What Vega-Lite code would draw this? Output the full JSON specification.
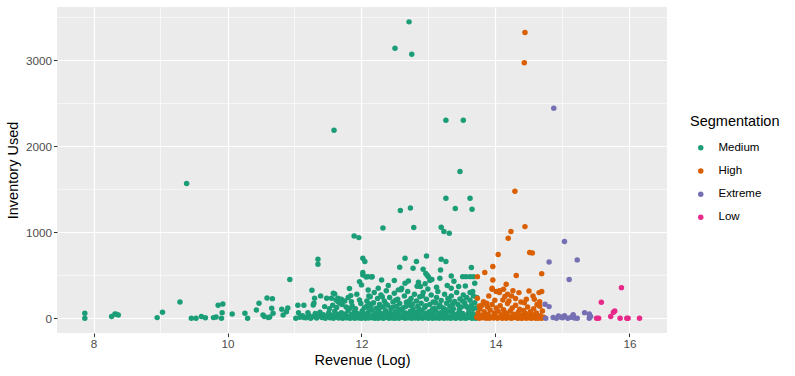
{
  "$schema": "https://vega.github.io/schema/vega-lite/v6.json",
  "width": 610,
  "height": 326,
  "autosize": {"type": "none"},
  "padding": {"left": 57, "top": 7, "right": 128, "bottom": 43},
  "background": "white",
  "config": {
    "font": "Liberation Sans",
    "view": {"fill": "#EBEBEB", "stroke": null},
    "axis": {
      "domain": false,
      "grid": true,
      "gridColor": "#FFFFFF",
      "gridWidth": 1.2,
      "tickColor": "#333333",
      "tickSize": 3.6,
      "tickWidth": 1,
      "labelColor": "#4D4D4D",
      "labelFontSize": 11.7,
      "labelPadding": 2,
      "titleFontSize": 14.5,
      "titleFontWeight": "normal",
      "titleColor": "#000000"
    },
    "legend": {
      "titleFontSize": 14.5,
      "titleFontWeight": "normal",
      "titleColor": "#000000",
      "labelFontSize": 11.5,
      "labelColor": "#000000",
      "padding": 0
    }
  },
  "layer": [
    {
      "data": {"values": [{"rev": 9}, {"rev": 11}, {"rev": 13}, {"rev": 15}]},
      "mark": {"type": "rule", "color": "#FFFFFF", "strokeWidth": 0.6},
      "encoding": {
        "x": {"field": "rev", "type": "quantitative", "title": "Revenue (Log)", "scale": {"domain": [7.455, 16.56], "nice": false, "zero": false}}
      }
    },
    {
      "data": {"values": [{"inv": 500}, {"inv": 1500}, {"inv": 2500}, {"inv": 3500}]},
      "mark": {"type": "rule", "color": "#FFFFFF", "strokeWidth": 0.6},
      "encoding": {
        "y": {"field": "inv", "type": "quantitative", "title": "Inventory Used", "scale": {"domain": [-172, 3622], "nice": false, "zero": false}}
      }
    },
    {
      "data": {"values": [
        {"rev":7.87,"inv":58,"seg":"Medium"},{"rev":7.87,"inv":0,"seg":"Medium"},{"rev":8.27,"inv":19,"seg":"Medium"},{"rev":8.32,"inv":50,"seg":"Medium"},{"rev":8.37,"inv":38,"seg":"Medium"},{"rev":8.34,"inv":45,"seg":"Medium"},{"rev":8.95,"inv":7,"seg":"Medium"},{"rev":9.03,"inv":70,"seg":"Medium"},{"rev":9.29,"inv":190,"seg":"Medium"},{"rev":9.39,"inv":1567,"seg":"Medium"},
        {"rev":9.46,"inv":0,"seg":"Medium"},{"rev":9.53,"inv":0,"seg":"Medium"},{"rev":9.61,"inv":19,"seg":"Medium"},{"rev":9.67,"inv":5,"seg":"Medium"},{"rev":9.79,"inv":7,"seg":"Medium"},{"rev":9.83,"inv":15,"seg":"Medium"},{"rev":9.86,"inv":150,"seg":"Medium"},{"rev":9.93,"inv":166,"seg":"Medium"},{"rev":9.92,"inv":65,"seg":"Medium"},{"rev":9.91,"inv":0,"seg":"Medium"},
        {"rev":10.07,"inv":50,"seg":"Medium"},{"rev":10.26,"inv":58,"seg":"Medium"},{"rev":10.30,"inv":0,"seg":"Medium"},{"rev":10.43,"inv":97,"seg":"Medium"},{"rev":10.47,"inv":175,"seg":"Medium"},{"rev":10.59,"inv":236,"seg":"Medium"},{"rev":10.67,"inv":228,"seg":"Medium"},{"rev":10.53,"inv":38,"seg":"Medium"},{"rev":10.61,"inv":7,"seg":"Medium"},{"rev":10.66,"inv":116,"seg":"Medium"},
        {"rev":10.68,"inv":58,"seg":"Medium"},{"rev":10.55,"inv":20,"seg":"Medium"},{"rev":10.63,"inv":15,"seg":"Medium"},{"rev":10.81,"inv":105,"seg":"Medium"},{"rev":10.83,"inv":38,"seg":"Medium"},{"rev":10.90,"inv":120,"seg":"Medium"},{"rev":10.88,"inv":75,"seg":"Medium"},{"rev":10.93,"inv":450,"seg":"Medium"},{"rev":11.05,"inv":150,"seg":"Medium"},{"rev":11.06,"inv":65,"seg":"Medium"},
        {"rev":11.14,"inv":150,"seg":"Medium"},{"rev":11.14,"inv":7,"seg":"Medium"},{"rev":11.20,"inv":65,"seg":"Medium"},{"rev":11.26,"inv":326,"seg":"Medium"},{"rev":11.30,"inv":233,"seg":"Medium"},{"rev":11.29,"inv":175,"seg":"Medium"},{"rev":11.35,"inv":687,"seg":"Medium"},{"rev":11.35,"inv":628,"seg":"Medium"},{"rev":11.39,"inv":260,"seg":"Medium"},{"rev":11.45,"inv":135,"seg":"Medium"},
        {"rev":11.48,"inv":233,"seg":"Medium"},{"rev":11.55,"inv":233,"seg":"Medium"},{"rev":11.60,"inv":283,"seg":"Medium"},{"rev":11.62,"inv":213,"seg":"Medium"},{"rev":11.65,"inv":233,"seg":"Medium"},{"rev":11.68,"inv":175,"seg":"Medium"},{"rev":11.75,"inv":201,"seg":"Medium"},{"rev":11.82,"inv":345,"seg":"Medium"},{"rev":11.84,"inv":263,"seg":"Medium"},{"rev":11.83,"inv":116,"seg":"Medium"},
        {"rev":11.89,"inv":958,"seg":"Medium"},{"rev":11.96,"inv":938,"seg":"Medium"},{"rev":11.97,"inv":213,"seg":"Medium"},{"rev":12.02,"inv":698,"seg":"Medium"},{"rev":12.05,"inv":659,"seg":"Medium"},{"rev":12.02,"inv":531,"seg":"Medium"},{"rev":12.07,"inv":481,"seg":"Medium"},{"rev":12.15,"inv":481,"seg":"Medium"},{"rev":11.97,"inv":426,"seg":"Medium"},{"rev":12.00,"inv":388,"seg":"Medium"},
        {"rev":12.12,"inv":166,"seg":"Medium"},{"rev":12.10,"inv":329,"seg":"Medium"},{"rev":12.07,"inv":135,"seg":"Medium"},{"rev":11.58,"inv":291,"seg":"Medium"},{"rev":11.65,"inv":193,"seg":"Medium"},{"rev":11.70,"inv":221,"seg":"Medium"},{"rev":11.85,"inv":193,"seg":"Medium"},{"rev":12.02,"inv":504,"seg":"Medium"},{"rev":12.10,"inv":484,"seg":"Medium"},{"rev":12.13,"inv":251,"seg":"Medium"},
        {"rev":12.10,"inv":155,"seg":"Medium"},{"rev":12.25,"inv":349,"seg":"Medium"},{"rev":11.28,"inv":155,"seg":"Medium"},{"rev":11.59,"inv":2188,"seg":"Medium"},{"rev":12.71,"inv":3449,"seg":"Medium"},{"rev":12.50,"inv":3143,"seg":"Medium"},{"rev":12.75,"inv":3073,"seg":"Medium"},{"rev":13.26,"inv":2305,"seg":"Medium"},{"rev":13.52,"inv":2305,"seg":"Medium"},{"rev":13.47,"inv":1707,"seg":"Medium"},
        {"rev":12.58,"inv":1253,"seg":"Medium"},{"rev":12.73,"inv":1284,"seg":"Medium"},{"rev":13.40,"inv":1276,"seg":"Medium"},{"rev":13.65,"inv":1269,"seg":"Medium"},{"rev":13.26,"inv":1397,"seg":"Medium"},{"rev":13.62,"inv":1397,"seg":"Medium"},{"rev":12.32,"inv":1051,"seg":"Medium"},{"rev":12.78,"inv":1055,"seg":"Medium"},{"rev":13.19,"inv":1059,"seg":"Medium"},{"rev":13.23,"inv":1008,"seg":"Medium"},
        {"rev":13.31,"inv":990,"seg":"Medium"},{"rev":12.97,"inv":725,"seg":"Medium"},{"rev":12.65,"inv":698,"seg":"Medium"},{"rev":12.57,"inv":594,"seg":"Medium"},{"rev":12.82,"inv":659,"seg":"Medium"},{"rev":12.77,"inv":582,"seg":"Medium"},{"rev":13.19,"inv":687,"seg":"Medium"},{"rev":13.26,"inv":659,"seg":"Medium"},{"rev":13.18,"inv":562,"seg":"Medium"},{"rev":13.34,"inv":492,"seg":"Medium"},
        {"rev":13.64,"inv":589,"seg":"Medium"},{"rev":13.51,"inv":484,"seg":"Medium"},{"rev":13.56,"inv":484,"seg":"Medium"},{"rev":13.62,"inv":484,"seg":"Medium"},{"rev":13.67,"inv":484,"seg":"Medium"},{"rev":13.69,"inv":407,"seg":"Medium"},{"rev":12.16,"inv":484,"seg":"Medium"},{"rev":12.30,"inv":446,"seg":"Medium"},{"rev":12.49,"inv":438,"seg":"Medium"},{"rev":12.65,"inv":407,"seg":"Medium"},
        {"rev":12.70,"inv":434,"seg":"Medium"},{"rev":12.92,"inv":570,"seg":"Medium"},{"rev":12.96,"inv":520,"seg":"Medium"},{"rev":13.00,"inv":480,"seg":"Medium"},{"rev":13.05,"inv":450,"seg":"Medium"},{"rev":12.98,"inv":500,"seg":"Medium"},{"rev":13.17,"inv":466,"seg":"Medium"},{"rev":12.88,"inv":370,"seg":"Medium"},{"rev":12.83,"inv":372,"seg":"Medium"},{"rev":13.34,"inv":349,"seg":"Medium"},
        {"rev":13.45,"inv":370,"seg":"Medium"},{"rev":13.55,"inv":375,"seg":"Medium"},{"rev":13.62,"inv":300,"seg":"Medium"},{"rev":13.66,"inv":310,"seg":"Medium"},{"rev":12.40,"inv":380,"seg":"Medium"},{"rev":12.60,"inv":350,"seg":"Medium"},{"rev":12.85,"inv":420,"seg":"Medium"},{"rev":12.95,"inv":400,"seg":"Medium"},{"rev":13.12,"inv":360,"seg":"Medium"},{"rev":13.02,"inv":440,"seg":"Medium"},
        {"rev":12.55,"inv":330,"seg":"Medium"},{"rev":13.38,"inv":430,"seg":"Medium"},{"rev":13.28,"inv":380,"seg":"Medium"},
        {"rev":11.02,"inv":0,"seg":"Medium"},{"rev":11.08,"inv":12,"seg":"Medium"},{"rev":11.12,"inv":30,"seg":"Medium"},{"rev":11.17,"inv":5,"seg":"Medium"},{"rev":11.21,"inv":40,"seg":"Medium"},{"rev":11.24,"inv":0,"seg":"Medium"},{"rev":11.27,"inv":18,"seg":"Medium"},{"rev":11.31,"inv":55,"seg":"Medium"},{"rev":11.33,"inv":3,"seg":"Medium"},{"rev":11.36,"inv":25,"seg":"Medium"},
        {"rev":11.38,"inv":70,"seg":"Medium"},{"rev":11.41,"inv":8,"seg":"Medium"},{"rev":11.43,"inv":40,"seg":"Medium"},{"rev":11.46,"inv":0,"seg":"Medium"},{"rev":11.49,"inv":22,"seg":"Medium"},{"rev":11.51,"inv":60,"seg":"Medium"},{"rev":11.53,"inv":5,"seg":"Medium"},{"rev":11.56,"inv":35,"seg":"Medium"},{"rev":11.58,"inv":0,"seg":"Medium"},{"rev":11.60,"inv":80,"seg":"Medium"},
        {"rev":11.62,"inv":15,"seg":"Medium"},{"rev":11.64,"inv":45,"seg":"Medium"},{"rev":11.66,"inv":2,"seg":"Medium"},{"rev":11.68,"inv":28,"seg":"Medium"},{"rev":11.70,"inv":65,"seg":"Medium"},{"rev":11.72,"inv":0,"seg":"Medium"},{"rev":11.74,"inv":12,"seg":"Medium"},{"rev":11.76,"inv":50,"seg":"Medium"},{"rev":11.78,"inv":4,"seg":"Medium"},{"rev":11.80,"inv":90,"seg":"Medium"},
        {"rev":11.81,"inv":20,"seg":"Medium"},{"rev":11.83,"inv":0,"seg":"Medium"},{"rev":11.85,"inv":42,"seg":"Medium"},{"rev":11.87,"inv":8,"seg":"Medium"},{"rev":11.89,"inv":70,"seg":"Medium"},{"rev":11.90,"inv":0,"seg":"Medium"},{"rev":11.92,"inv":25,"seg":"Medium"},{"rev":11.94,"inv":55,"seg":"Medium"},{"rev":11.96,"inv":3,"seg":"Medium"},{"rev":11.98,"inv":35,"seg":"Medium"},
        {"rev":12.00,"inv":0,"seg":"Medium"},{"rev":12.01,"inv":85,"seg":"Medium"},{"rev":12.03,"inv":14,"seg":"Medium"},{"rev":12.05,"inv":48,"seg":"Medium"},{"rev":12.06,"inv":0,"seg":"Medium"},{"rev":12.08,"inv":30,"seg":"Medium"},{"rev":12.10,"inv":68,"seg":"Medium"},{"rev":12.11,"inv":2,"seg":"Medium"},{"rev":12.13,"inv":22,"seg":"Medium"},{"rev":12.15,"inv":95,"seg":"Medium"},
        {"rev":12.16,"inv":6,"seg":"Medium"},{"rev":12.18,"inv":40,"seg":"Medium"},{"rev":12.20,"inv":0,"seg":"Medium"},{"rev":12.21,"inv":60,"seg":"Medium"},{"rev":12.23,"inv":18,"seg":"Medium"},{"rev":12.25,"inv":0,"seg":"Medium"},{"rev":12.26,"inv":78,"seg":"Medium"},{"rev":12.28,"inv":33,"seg":"Medium"},{"rev":12.30,"inv":5,"seg":"Medium"},{"rev":12.31,"inv":52,"seg":"Medium"},
        {"rev":12.33,"inv":0,"seg":"Medium"},{"rev":12.35,"inv":25,"seg":"Medium"},{"rev":12.36,"inv":88,"seg":"Medium"},{"rev":12.38,"inv":10,"seg":"Medium"},{"rev":12.40,"inv":45,"seg":"Medium"},{"rev":12.41,"inv":0,"seg":"Medium"},{"rev":12.43,"inv":65,"seg":"Medium"},{"rev":12.45,"inv":20,"seg":"Medium"},{"rev":12.46,"inv":3,"seg":"Medium"},{"rev":12.48,"inv":38,"seg":"Medium"},
        {"rev":12.50,"inv":0,"seg":"Medium"},{"rev":12.51,"inv":75,"seg":"Medium"},{"rev":12.53,"inv":15,"seg":"Medium"},{"rev":12.55,"inv":50,"seg":"Medium"},{"rev":12.56,"inv":0,"seg":"Medium"},{"rev":12.58,"inv":28,"seg":"Medium"},{"rev":12.60,"inv":92,"seg":"Medium"},{"rev":12.61,"inv":8,"seg":"Medium"},{"rev":12.63,"inv":42,"seg":"Medium"},{"rev":12.65,"inv":0,"seg":"Medium"},
        {"rev":12.66,"inv":62,"seg":"Medium"},{"rev":12.68,"inv":20,"seg":"Medium"},{"rev":12.70,"inv":4,"seg":"Medium"},{"rev":12.71,"inv":35,"seg":"Medium"},{"rev":12.73,"inv":80,"seg":"Medium"},{"rev":12.75,"inv":0,"seg":"Medium"},{"rev":12.76,"inv":26,"seg":"Medium"},{"rev":12.78,"inv":55,"seg":"Medium"},{"rev":12.80,"inv":2,"seg":"Medium"},{"rev":12.81,"inv":18,"seg":"Medium"},
        {"rev":12.83,"inv":70,"seg":"Medium"},{"rev":12.85,"inv":0,"seg":"Medium"},{"rev":12.86,"inv":40,"seg":"Medium"},{"rev":12.88,"inv":10,"seg":"Medium"},{"rev":12.90,"inv":85,"seg":"Medium"},{"rev":12.91,"inv":0,"seg":"Medium"},{"rev":12.93,"inv":30,"seg":"Medium"},{"rev":12.95,"inv":58,"seg":"Medium"},{"rev":12.96,"inv":5,"seg":"Medium"},{"rev":12.98,"inv":22,"seg":"Medium"},
        {"rev":13.00,"inv":0,"seg":"Medium"},{"rev":13.01,"inv":75,"seg":"Medium"},{"rev":13.03,"inv":12,"seg":"Medium"},{"rev":13.05,"inv":45,"seg":"Medium"},{"rev":13.06,"inv":0,"seg":"Medium"},{"rev":13.08,"inv":32,"seg":"Medium"},{"rev":13.10,"inv":90,"seg":"Medium"},{"rev":13.11,"inv":3,"seg":"Medium"},{"rev":13.13,"inv":20,"seg":"Medium"},{"rev":13.15,"inv":60,"seg":"Medium"},
        {"rev":13.16,"inv":0,"seg":"Medium"},{"rev":13.18,"inv":38,"seg":"Medium"},{"rev":13.20,"inv":8,"seg":"Medium"},{"rev":13.21,"inv":72,"seg":"Medium"},{"rev":13.23,"inv":0,"seg":"Medium"},{"rev":13.25,"inv":25,"seg":"Medium"},{"rev":13.26,"inv":50,"seg":"Medium"},{"rev":13.28,"inv":2,"seg":"Medium"},{"rev":13.30,"inv":15,"seg":"Medium"},{"rev":13.31,"inv":82,"seg":"Medium"},
        {"rev":13.33,"inv":0,"seg":"Medium"},{"rev":13.35,"inv":35,"seg":"Medium"},{"rev":13.36,"inv":60,"seg":"Medium"},{"rev":13.38,"inv":6,"seg":"Medium"},{"rev":13.40,"inv":20,"seg":"Medium"},{"rev":13.41,"inv":0,"seg":"Medium"},{"rev":13.43,"inv":48,"seg":"Medium"},{"rev":13.45,"inv":12,"seg":"Medium"},{"rev":13.46,"inv":75,"seg":"Medium"},{"rev":13.48,"inv":0,"seg":"Medium"},
        {"rev":13.50,"inv":30,"seg":"Medium"},{"rev":13.51,"inv":55,"seg":"Medium"},{"rev":13.53,"inv":4,"seg":"Medium"},{"rev":13.55,"inv":18,"seg":"Medium"},{"rev":13.56,"inv":0,"seg":"Medium"},{"rev":13.58,"inv":40,"seg":"Medium"},{"rev":13.60,"inv":68,"seg":"Medium"},{"rev":13.61,"inv":8,"seg":"Medium"},{"rev":13.63,"inv":25,"seg":"Medium"},{"rev":13.65,"inv":0,"seg":"Medium"},
        {"rev":13.66,"inv":50,"seg":"Medium"},{"rev":13.68,"inv":14,"seg":"Medium"},{"rev":13.70,"inv":0,"seg":"Medium"},{"rev":13.71,"inv":35,"seg":"Medium"},{"rev":13.73,"inv":5,"seg":"Medium"},{"rev":13.74,"inv":20,"seg":"Medium"},
        {"rev":11.52,"inv":110,"seg":"Medium"},{"rev":11.57,"inv":150,"seg":"Medium"},{"rev":11.63,"inv":125,"seg":"Medium"},{"rev":11.71,"inv":160,"seg":"Medium"},{"rev":11.77,"inv":130,"seg":"Medium"},{"rev":11.80,"inv":240,"seg":"Medium"},{"rev":11.86,"inv":145,"seg":"Medium"},{"rev":11.91,"inv":110,"seg":"Medium"},{"rev":11.93,"inv":280,"seg":"Medium"},{"rev":11.99,"inv":170,"seg":"Medium"},
        {"rev":12.04,"inv":120,"seg":"Medium"},{"rev":12.08,"inv":200,"seg":"Medium"},{"rev":12.11,"inv":260,"seg":"Medium"},{"rev":12.14,"inv":140,"seg":"Medium"},{"rev":12.18,"inv":180,"seg":"Medium"},{"rev":12.19,"inv":300,"seg":"Medium"},{"rev":12.22,"inv":115,"seg":"Medium"},{"rev":12.24,"inv":230,"seg":"Medium"},{"rev":12.27,"inv":160,"seg":"Medium"},{"rev":12.29,"inv":270,"seg":"Medium"},
        {"rev":12.32,"inv":130,"seg":"Medium"},{"rev":12.34,"inv":200,"seg":"Medium"},{"rev":12.37,"inv":320,"seg":"Medium"},{"rev":12.39,"inv":150,"seg":"Medium"},{"rev":12.42,"inv":240,"seg":"Medium"},{"rev":12.44,"inv":110,"seg":"Medium"},{"rev":12.47,"inv":190,"seg":"Medium"},{"rev":12.49,"inv":290,"seg":"Medium"},{"rev":12.52,"inv":140,"seg":"Medium"},{"rev":12.54,"inv":220,"seg":"Medium"},
        {"rev":12.57,"inv":170,"seg":"Medium"},{"rev":12.59,"inv":330,"seg":"Medium"},{"rev":12.62,"inv":120,"seg":"Medium"},{"rev":12.64,"inv":260,"seg":"Medium"},{"rev":12.67,"inv":185,"seg":"Medium"},{"rev":12.69,"inv":310,"seg":"Medium"},{"rev":12.72,"inv":150,"seg":"Medium"},{"rev":12.74,"inv":230,"seg":"Medium"},{"rev":12.77,"inv":110,"seg":"Medium"},{"rev":12.79,"inv":280,"seg":"Medium"},
        {"rev":12.82,"inv":200,"seg":"Medium"},{"rev":12.84,"inv":140,"seg":"Medium"},{"rev":12.87,"inv":250,"seg":"Medium"},{"rev":12.89,"inv":175,"seg":"Medium"},{"rev":12.92,"inv":300,"seg":"Medium"},{"rev":12.94,"inv":125,"seg":"Medium"},{"rev":12.97,"inv":220,"seg":"Medium"},{"rev":12.99,"inv":340,"seg":"Medium"},{"rev":13.02,"inv":160,"seg":"Medium"},{"rev":13.04,"inv":270,"seg":"Medium"},
        {"rev":13.07,"inv":190,"seg":"Medium"},{"rev":13.09,"inv":115,"seg":"Medium"},{"rev":13.12,"inv":240,"seg":"Medium"},{"rev":13.14,"inv":310,"seg":"Medium"},{"rev":13.17,"inv":150,"seg":"Medium"},{"rev":13.19,"inv":205,"seg":"Medium"},{"rev":13.22,"inv":120,"seg":"Medium"},{"rev":13.24,"inv":280,"seg":"Medium"},{"rev":13.27,"inv":175,"seg":"Medium"},{"rev":13.29,"inv":230,"seg":"Medium"},
        {"rev":13.32,"inv":140,"seg":"Medium"},{"rev":13.34,"inv":260,"seg":"Medium"},{"rev":13.37,"inv":110,"seg":"Medium"},{"rev":13.39,"inv":195,"seg":"Medium"},{"rev":13.42,"inv":300,"seg":"Medium"},{"rev":13.44,"inv":160,"seg":"Medium"},{"rev":13.47,"inv":225,"seg":"Medium"},{"rev":13.49,"inv":130,"seg":"Medium"},{"rev":13.52,"inv":270,"seg":"Medium"},{"rev":13.54,"inv":180,"seg":"Medium"},
        {"rev":13.57,"inv":240,"seg":"Medium"},{"rev":13.59,"inv":120,"seg":"Medium"},{"rev":13.62,"inv":210,"seg":"Medium"},{"rev":13.64,"inv":150,"seg":"Medium"},{"rev":13.67,"inv":260,"seg":"Medium"},{"rev":13.69,"inv":180,"seg":"Medium"},{"rev":13.71,"inv":120,"seg":"Medium"},{"rev":13.72,"inv":240,"seg":"Medium"},
        {"rev":12.12,"inv":105,"seg":"Medium"},{"rev":12.26,"inv":115,"seg":"Medium"},{"rev":12.36,"inv":170,"seg":"Medium"},{"rev":12.46,"inv":125,"seg":"Medium"},{"rev":12.56,"inv":105,"seg":"Medium"},{"rev":12.66,"inv":135,"seg":"Medium"},{"rev":12.76,"inv":165,"seg":"Medium"},{"rev":12.86,"inv":105,"seg":"Medium"},{"rev":12.96,"inv":145,"seg":"Medium"},{"rev":13.06,"inv":105,"seg":"Medium"},
        {"rev":13.16,"inv":130,"seg":"Medium"},{"rev":13.26,"inv":100,"seg":"Medium"},{"rev":13.36,"inv":160,"seg":"Medium"},{"rev":13.46,"inv":105,"seg":"Medium"},{"rev":13.56,"inv":140,"seg":"Medium"},{"rev":13.66,"inv":105,"seg":"Medium"},{"rev":12.31,"inv":250,"seg":"Medium"},{"rev":12.51,"inv":210,"seg":"Medium"},{"rev":12.71,"inv":200,"seg":"Medium"},{"rev":12.91,"inv":260,"seg":"Medium"},
        {"rev":13.11,"inv":180,"seg":"Medium"},{"rev":13.31,"inv":210,"seg":"Medium"},{"rev":13.51,"inv":200,"seg":"Medium"},
        {"rev":14.44,"inv":3325,"seg":"High"},{"rev":14.43,"inv":2972,"seg":"High"},{"rev":14.29,"inv":1478,"seg":"High"},{"rev":14.44,"inv":1066,"seg":"High"},{"rev":14.23,"inv":1008,"seg":"High"},{"rev":14.19,"inv":931,"seg":"High"},{"rev":14.51,"inv":764,"seg":"High"},{"rev":14.55,"inv":760,"seg":"High"},{"rev":14.04,"inv":741,"seg":"High"},{"rev":13.96,"inv":601,"seg":"High"},
        {"rev":14.69,"inv":519,"seg":"High"},{"rev":14.31,"inv":496,"seg":"High"},{"rev":13.96,"inv":446,"seg":"High"},{"rev":14.16,"inv":396,"seg":"High"},{"rev":13.73,"inv":484,"seg":"High"},{"rev":13.84,"inv":531,"seg":"High"},
        {"rev":13.95,"inv":338,"seg":"High"},{"rev":14.01,"inv":310,"seg":"High"},{"rev":14.06,"inv":321,"seg":"High"},{"rev":14.12,"inv":338,"seg":"High"},{"rev":14.26,"inv":321,"seg":"High"},{"rev":14.35,"inv":298,"seg":"High"},{"rev":14.50,"inv":318,"seg":"High"},{"rev":14.56,"inv":260,"seg":"High"},{"rev":14.65,"inv":298,"seg":"High"},{"rev":14.69,"inv":310,"seg":"High"},
        {"rev":14.46,"inv":221,"seg":"High"},{"rev":14.58,"inv":221,"seg":"High"},{"rev":14.66,"inv":193,"seg":"High"},{"rev":13.73,"inv":233,"seg":"High"},{"rev":13.82,"inv":193,"seg":"High"},{"rev":13.87,"inv":175,"seg":"High"},{"rev":13.76,"inv":143,"seg":"High"},{"rev":14.14,"inv":252,"seg":"High"},{"rev":14.11,"inv":213,"seg":"High"},{"rev":14.24,"inv":260,"seg":"High"},
        {"rev":14.06,"inv":298,"seg":"High"},{"rev":13.95,"inv":349,"seg":"High"},{"rev":14.20,"inv":200,"seg":"High"},{"rev":13.90,"inv":260,"seg":"High"},{"rev":14.38,"inv":190,"seg":"High"},{"rev":14.30,"inv":230,"seg":"High"},{"rev":14.43,"inv":180,"seg":"High"},{"rev":14.62,"inv":160,"seg":"High"},{"rev":13.99,"inv":210,"seg":"High"},{"rev":14.18,"inv":280,"seg":"High"},
        {"rev":13.72,"inv":10,"seg":"High"},{"rev":13.74,"inv":60,"seg":"High"},{"rev":13.76,"inv":0,"seg":"High"},{"rev":13.77,"inv":110,"seg":"High"},{"rev":13.79,"inv":30,"seg":"High"},{"rev":13.80,"inv":150,"seg":"High"},{"rev":13.81,"inv":5,"seg":"High"},{"rev":13.83,"inv":75,"seg":"High"},{"rev":13.85,"inv":20,"seg":"High"},{"rev":13.86,"inv":0,"seg":"High"},
        {"rev":13.88,"inv":130,"seg":"High"},{"rev":13.89,"inv":45,"seg":"High"},{"rev":13.91,"inv":0,"seg":"High"},{"rev":13.92,"inv":95,"seg":"High"},{"rev":13.94,"inv":15,"seg":"High"},{"rev":13.95,"inv":160,"seg":"High"},{"rev":13.97,"inv":2,"seg":"High"},{"rev":13.98,"inv":60,"seg":"High"},{"rev":14.00,"inv":25,"seg":"High"},{"rev":14.01,"inv":120,"seg":"High"},
        {"rev":14.03,"inv":0,"seg":"High"},{"rev":14.04,"inv":80,"seg":"High"},{"rev":14.06,"inv":10,"seg":"High"},{"rev":14.07,"inv":145,"seg":"High"},{"rev":14.09,"inv":40,"seg":"High"},{"rev":14.10,"inv":0,"seg":"High"},{"rev":14.12,"inv":100,"seg":"High"},{"rev":14.13,"inv":18,"seg":"High"},{"rev":14.15,"inv":65,"seg":"High"},{"rev":14.16,"inv":0,"seg":"High"},
        {"rev":14.18,"inv":170,"seg":"High"},{"rev":14.19,"inv":30,"seg":"High"},{"rev":14.21,"inv":5,"seg":"High"},{"rev":14.22,"inv":85,"seg":"High"},{"rev":14.24,"inv":0,"seg":"High"},{"rev":14.25,"inv":120,"seg":"High"},{"rev":14.27,"inv":45,"seg":"High"},{"rev":14.28,"inv":8,"seg":"High"},{"rev":14.30,"inv":150,"seg":"High"},{"rev":14.31,"inv":20,"seg":"High"},
        {"rev":14.33,"inv":0,"seg":"High"},{"rev":14.34,"inv":70,"seg":"High"},{"rev":14.36,"inv":105,"seg":"High"},{"rev":14.37,"inv":3,"seg":"High"},{"rev":14.39,"inv":35,"seg":"High"},{"rev":14.40,"inv":0,"seg":"High"},{"rev":14.42,"inv":90,"seg":"High"},{"rev":14.43,"inv":15,"seg":"High"},{"rev":14.45,"inv":55,"seg":"High"},{"rev":14.46,"inv":0,"seg":"High"},
        {"rev":14.48,"inv":130,"seg":"High"},{"rev":14.49,"inv":25,"seg":"High"},{"rev":14.51,"inv":4,"seg":"High"},{"rev":14.52,"inv":75,"seg":"High"},{"rev":14.54,"inv":0,"seg":"High"},{"rev":14.55,"inv":40,"seg":"High"},{"rev":14.57,"inv":110,"seg":"High"},{"rev":14.58,"inv":10,"seg":"High"},{"rev":14.60,"inv":0,"seg":"High"},{"rev":14.61,"inv":60,"seg":"High"},
        {"rev":14.63,"inv":20,"seg":"High"},{"rev":14.64,"inv":0,"seg":"High"},{"rev":14.66,"inv":140,"seg":"High"},{"rev":14.67,"inv":30,"seg":"High"},{"rev":14.69,"inv":0,"seg":"High"},{"rev":14.70,"inv":85,"seg":"High"},{"rev":14.72,"inv":12,"seg":"High"},
        {"rev":14.87,"inv":2445,"seg":"Extreme"},{"rev":15.03,"inv":892,"seg":"Extreme"},{"rev":15.22,"inv":679,"seg":"Extreme"},{"rev":14.80,"inv":655,"seg":"Extreme"},{"rev":15.10,"inv":450,"seg":"Extreme"},{"rev":14.74,"inv":163,"seg":"Extreme"},{"rev":14.80,"inv":135,"seg":"Extreme"},{"rev":14.75,"inv":0,"seg":"Extreme"},{"rev":14.86,"inv":8,"seg":"Extreme"},{"rev":14.91,"inv":0,"seg":"Extreme"},
        {"rev":14.97,"inv":15,"seg":"Extreme"},{"rev":15.03,"inv":30,"seg":"Extreme"},{"rev":15.08,"inv":0,"seg":"Extreme"},{"rev":15.13,"inv":10,"seg":"Extreme"},{"rev":15.16,"inv":40,"seg":"Extreme"},{"rev":15.22,"inv":0,"seg":"Extreme"},{"rev":15.33,"inv":65,"seg":"Extreme"},{"rev":15.40,"inv":50,"seg":"Extreme"},{"rev":15.40,"inv":0,"seg":"Extreme"},{"rev":15.42,"inv":20,"seg":"Extreme"},
        {"rev":15.00,"inv":5,"seg":"Extreme"},{"rev":14.94,"inv":25,"seg":"Extreme"},{"rev":15.18,"inv":3,"seg":"Extreme"},
        {"rev":15.51,"inv":0,"seg":"Low"},{"rev":15.54,"inv":0,"seg":"Low"},{"rev":15.58,"inv":186,"seg":"Low"},{"rev":15.72,"inv":19,"seg":"Low"},{"rev":15.78,"inv":85,"seg":"Low"},{"rev":15.76,"inv":70,"seg":"Low"},{"rev":15.88,"inv":356,"seg":"Low"},{"rev":15.86,"inv":0,"seg":"Low"},{"rev":15.96,"inv":0,"seg":"Low"},{"rev":15.98,"inv":0,"seg":"Low"},
        {"rev":16.15,"inv":0,"seg":"Low"}
      ]},
      "mark": {"type": "circle", "size": 30, "opacity": 1},
      "encoding": {
        "x": {"field": "rev", "type": "quantitative", "title": "Revenue (Log)",
              "scale": {"domain": [7.455, 16.56], "nice": false, "zero": false},
              "axis": {"values": [8, 10, 12, 14, 16], "format": "d", "titlePadding": 3}},
        "y": {"field": "inv", "type": "quantitative", "title": "Inventory Used",
              "scale": {"domain": [-172, 3622], "nice": false, "zero": false},
              "axis": {"values": [0, 1000, 2000, 3000], "format": "d", "titlePadding": 5}},
        "color": {"field": "seg", "type": "nominal", "title": "Segmentation",
                  "scale": {"domain": ["Medium", "High", "Extreme", "Low"], "range": ["#1B9E77", "#D95F02", "#7570B3", "#E7298A"]},
                  "legend": {"orient": "none", "legendX": 633, "legendY": 108, "symbolType": "circle", "symbolSize": 30, "rowPadding": 10.2, "titlePadding": 12.5, "symbolOffset": 5, "labelOffset": 12}}
      }
    }
  ]
}
